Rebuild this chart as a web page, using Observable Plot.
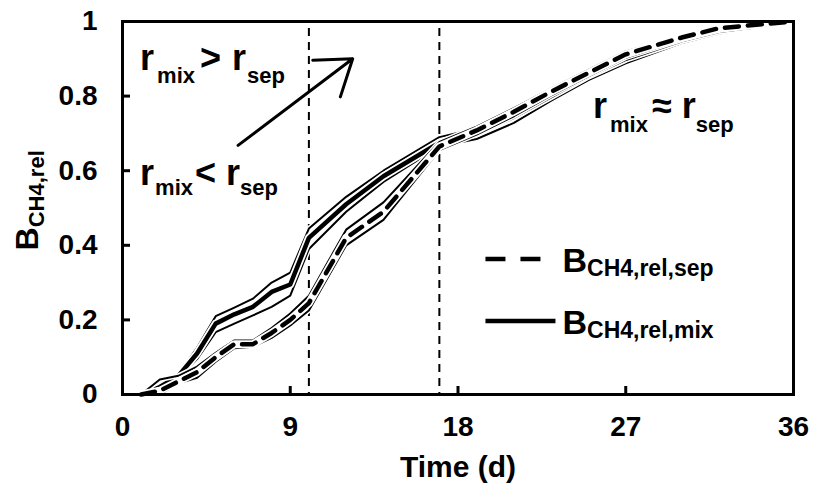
<!DOCTYPE html>
<html><head><meta charset="utf-8">
<script src="https://cdn.jsdelivr.net/npm/d3@7"></script>
<script src="https://cdn.jsdelivr.net/npm/@observablehq/plot@0.6"></script>
<style>body{margin:0;background:#fff}</style>
</head><body><div id="chart"></div>
<script>
// ---- data ----
const days    = [1, 2, 3, 4, 5, 6, 7, 8, 9, 10, 12, 14, 17, 19, 21, 23, 25, 27, 30, 32, 36];
const mixMean = [0, 0.02, 0.05, 0.11, 0.19, 0.215, 0.235, 0.275, 0.295, 0.42, 0.51, 0.585, 0.675, 0.70, 0.745, 0.80, 0.855, 0.90, 0.95, 0.975, 1.0];
const mixHi   = [0, 0.03, 0.055, 0.125, 0.21, 0.233, 0.257, 0.30, 0.327, 0.445, 0.53, 0.60, 0.69, 0.713, 0.757, 0.812, 0.865, 0.91, 0.957, 0.98, 1.0];
const mixLo   = [0, 0.0, 0.045, 0.095, 0.167, 0.19, 0.212, 0.235, 0.265, 0.39, 0.49, 0.57, 0.665, 0.685, 0.728, 0.788, 0.843, 0.888, 0.942, 0.968, 1.0];
const sepMean = [0, 0.01, 0.035, 0.06, 0.10, 0.135, 0.135, 0.165, 0.20, 0.245, 0.42, 0.49, 0.665, 0.708, 0.758, 0.812, 0.862, 0.912, 0.957, 0.982, 1.0];
const sepHi   = [0, 0.04, 0.05, 0.075, 0.112, 0.145, 0.145, 0.178, 0.217, 0.265, 0.442, 0.515, 0.677, 0.718, 0.768, 0.82, 0.87, 0.92, 0.962, 0.986, 1.0];
const sepLo   = [0, 0.0, 0.03, 0.045, 0.088, 0.124, 0.128, 0.152, 0.185, 0.225, 0.40, 0.468, 0.655, 0.697, 0.746, 0.802, 0.853, 0.903, 0.951, 0.976, 1.0];
const xTicks = [0, 9, 18, 27, 36];
const yTicks = [0, 0.2, 0.4, 0.6, 0.8, 1];
const yTickLabels = ["0", "0.2", "0.4", "0.6", "0.8", "1"];
const phaseBounds = [10, 17];
const arrowData = [{t1: 6.2, v1: 0.668, t2: 12.35, v2: 0.90}];
const legendLabels = [["B", "CH4,rel,sep"], ["B", "CH4,rel,mix"]];
const xTitle = "Time (d)";
const yTitle = ["B", "CH4,rel"];
const relGreater = ["r", "mix", ">", "r", "sep"];
const relLess    = ["r", "mix", "<", "r", "sep"];
const relApprox  = ["r", "mix", "\u2248", "r", "sep"];

const FONT = "'Liberation Sans', Arial, Helvetica, sans-serif";

function curve(vals, thin, dashed) {
  const data = days.map((t, i) => ({t, v: vals[i]}));
  return [
    Plot.line(data, {x: "t", y: "v", stroke: "white", strokeWidth: thin ? 5 : 8, strokeLinejoin: "round"}),
    Plot.line(data, {x: "t", y: "v", stroke: "black", strokeWidth: thin ? 2 : 4.5,
      strokeDasharray: dashed ? "14,9" : null, strokeLinejoin: "round"})
  ];
}

// rich text (subscripts at positions 1 and 4) placed at a data anchor
const SUB = [false, true, false, false, true];
function rich(t, v, parts, big, small, shift, gaps) {
  return (index, scales) => {
    const x = scales.x(t), y = scales.y(v);
    const txt = d3.create("svg:text")
      .attr("x", x).attr("y", y).attr("text-anchor", "start")
      .attr("font-family", FONT).attr("font-weight", "bold").attr("fill", "black");
    let sub = false;
    parts.forEach((p, i) => {
      const isSub = SUB[i];
      const ts = txt.append("tspan").text(p)
        .attr("font-size", isSub ? small : big)
        .attr("dx", gaps[i] || 0);
      if (isSub && !sub) ts.attr("dy", shift);
      if (!isSub && sub) ts.attr("dy", -shift);
      sub = isSub;
    });
    return txt.node();
  };
}

function legend(index, scales) {
  const g = d3.create("svg:g").attr("font-family", FONT).attr("font-weight", "bold").attr("text-anchor", "start");
  const x0 = scales.x(19.5);
  const rows = [scales.y(0.362), scales.y(0.196)];
  g.append("line").attr("x1", x0).attr("x2", x0 + 55).attr("y1", rows[0]).attr("y2", rows[0])
    .attr("stroke", "black").attr("stroke-width", 4.5).attr("stroke-dasharray", "20,15");
  g.append("line").attr("x1", x0).attr("x2", x0 + 70).attr("y1", rows[1]).attr("y2", rows[1])
    .attr("stroke", "black").attr("stroke-width", 4.5);
  legendLabels.forEach(([b, s], i) => {
    const tx = g.append("text").attr("x", x0 + 77).attr("y", rows[i] + 13);
    tx.append("tspan").attr("font-size", 34).text(b);
    tx.append("tspan").attr("font-size", 23).attr("dy", 4).text(s);
  });
  return g.node();
}

function yTitleMark(index, scales) {
  const t = d3.create("svg:text")
    .attr("transform", `translate(38,${scales.y(0.385)}) rotate(-90)`)
    .attr("text-anchor", "start")
    .attr("font-family", FONT).attr("font-weight", "bold");
  t.append("tspan").attr("font-size", 32).text(yTitle[0]);
  t.append("tspan").attr("font-size", 22).attr("dy", 6).text(yTitle[1]);
  return t.node();
}

const chart = Plot.plot({
  width: 820,
  height: 485,
  marginTop: 21,
  marginBottom: 91,
  marginLeft: 122,
  marginRight: 27,
  style: {fontFamily: FONT, fontWeight: "bold", fontSize: "28px", color: "black", background: "white"},
  x: {domain: [0, 36]},
  y: {domain: [0, 1]},
  marks: [
    Plot.ruleX(phaseBounds, {x: d => d, stroke: "black", strokeWidth: 2, strokeDasharray: "8,6", insetTop: 7}),
    ...curve(mixLo, true), ...curve(mixHi, true), ...curve(mixMean, false, false),
    ...curve(sepLo, true), ...curve(sepHi, true), ...curve(sepMean, false, true),
    Plot.arrow(arrowData, {x1: "t1", y1: "v1", x2: "t2", y2: "v2", stroke: "black", strokeWidth: 3, headLength: 20, headAngle: 70}),
    rich(0.97, 0.869, relGreater, 36, 22, 13, [0, 3, 5, 11, 1]),
    rich(0.97, 0.560, relLess, 36, 22, 10, [0, 1, 2, 10, 0]),
    rich(25.27, 0.740, relApprox, 36, 22, 14, [0, 3, 4, 10, 0]),
    legend,
    yTitleMark,
    Plot.text([xTitle], {text: d => d, frameAnchor: "bottom", dy: 82, lineAnchor: "bottom", fontSize: 30, fontWeight: "bold", fill: "black"}),
    Plot.tickX(xTicks, {x: d => d, stroke: "black", strokeWidth: 3, insetTop: 373 - 8}),
    Plot.tickY(yTicks, {y: d => d, stroke: "black", strokeWidth: 3, insetRight: 671 - 8}),
    Plot.axisX({ticks: xTicks, tickSize: 0, tickPadding: 22, fontSize: 28, fontWeight: "bold", label: null}),
    Plot.axisY({ticks: yTicks, tickSize: 0, tickPadding: 25, fontSize: 28, fontWeight: "bold", label: null,
      tickFormat: d => yTickLabels[yTicks.indexOf(d)]}),
    Plot.frame({stroke: "black", strokeWidth: 3})
  ]
});
document.getElementById("chart").appendChild(chart);
</script>
</body></html>
